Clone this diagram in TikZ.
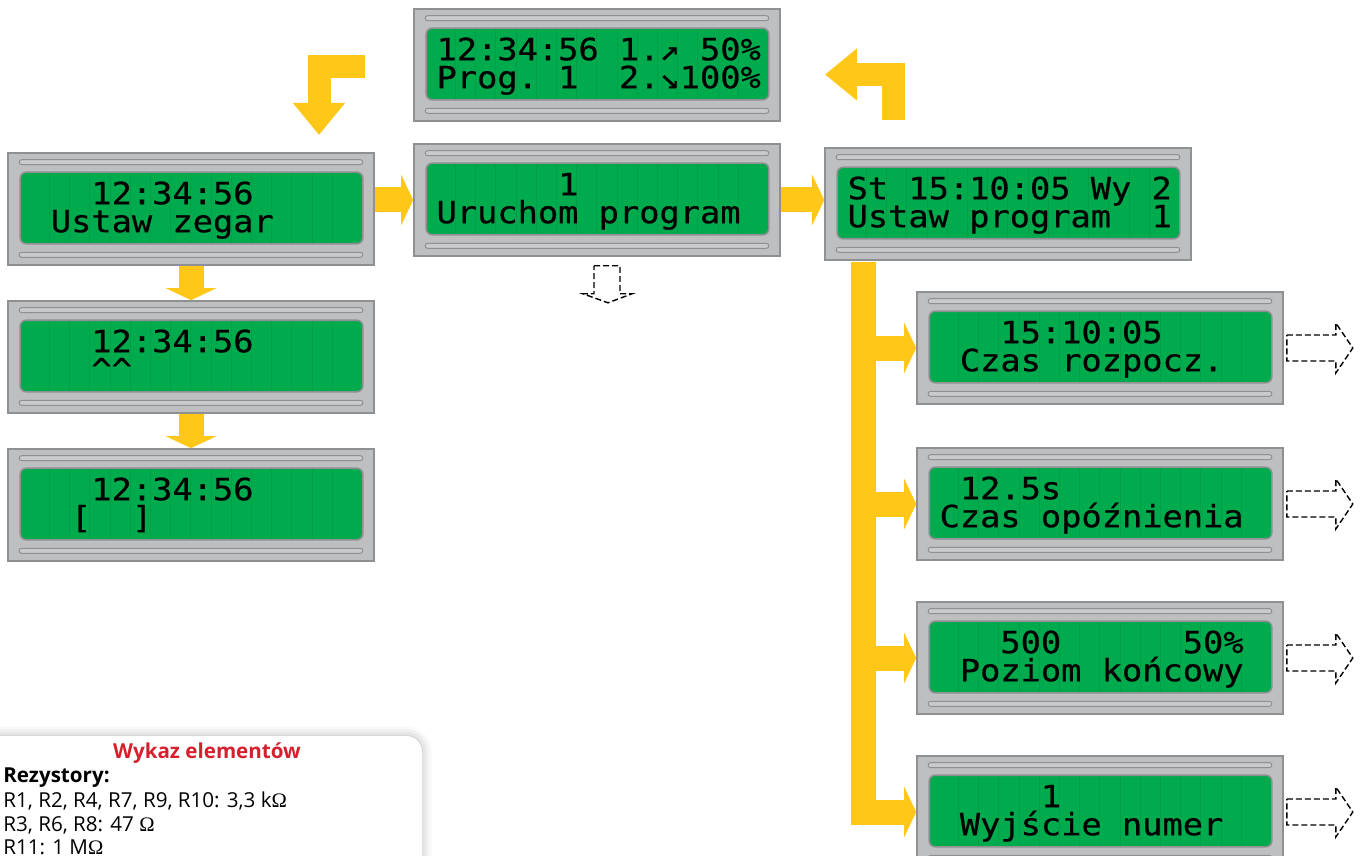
\documentclass[tikz,border=0pt]{standalone}
\usepackage{fontspec}
\usepackage{tikz}
\usetikzlibrary{arrows.meta,positioning,shadows.blur}

\newfontfamily\lcdfont{DejaVu Sans Mono}[FakeStretch=1.1,FakeBold=0.6]
\newfontfamily\legendfont{Open Sans}
\newfontfamily\omfont{Liberation Serif}
\newcommand{\omg}{{\omfont Ω}}

\definecolor{framegray}{RGB}{190,191,193}
\definecolor{framedark}{RGB}{142,144,146}
\definecolor{stripegray}{RGB}{201,202,203}
\definecolor{lcdgreen}{RGB}{0,171,78}
\definecolor{arrowyellow}{RGB}{255,199,23}
\definecolor{titlered}{RGB}{215,32,46}

\begin{document}
\begin{tikzpicture}[x=0.5pt, y=-0.5pt,
    lcd/.style={draw=framedark, fill=framegray, line width=0.8pt, minimum width=183pt, minimum height=56pt, inner sep=0pt},
    screen/.style={fill=lcdgreen, draw=framedark, line width=0.8pt, rounded corners=3pt},
    stripe/.style={fill=stripegray, draw=framedark, line width=0.5pt, rounded corners=1.2pt},
    cell/.style={draw=black, opacity=0.06, line width=0.5pt},
    lcdtext/.style={font={\lcdfont\fontsize{15.3pt}{15.3pt}\selectfont}, inner sep=0pt, anchor=base west},
    yarrow/.style={draw=arrowyellow, line width=12.5pt, -{Triangle[width=25pt,length=6pt]}},
    bent/.style={draw=arrowyellow, line width=11.5pt, -{Triangle[width=25pt,length=16pt]}},
    hollow/.style={draw=black, line width=0.7pt, dash pattern=on 3pt off 1.5pt},
    legtext/.style={font={\legendfont\fontsize{10.3pt}{12pt}\selectfont}, inner sep=0pt, anchor=base west},
    on grid]
  \useasboundingbox (0,0) rectangle (1362,856);
  \clip (0,0) rectangle (1362,856);

  % modules
  \node[lcd] (glowny) at (597,65) {};
  \node[lcd] (zegar) at (191,209) {};
  \node[lcd] (uruchom) at (597,200) {};
  \node[lcd] (ustaw) at (1008,204) {};
  \node[lcd, below=74pt of zegar] (kursor) {};
  \node[lcd, below=74pt of kursor] (nawias) {};
  \node[lcd] (czas) at (1100,348) {};
  \node[lcd, below=78pt of czas] (opozn) {};
  \node[lcd, below=77pt of opozn] (poziom) {};
  \node[lcd, below=77pt of poziom] (wyjscie) {};

  \foreach \m/\ra/\rb in {
      glowny/{12:34:56~1.↗~50\%}/{Prog.~1~~2.↘100\%},
      zegar/{~~~12:34:56}/{~Ustaw~zegar},
      uruchom/{~~~~~~1}/{Uruchom~program},
      ustaw/{St~15:10:05~Wy~2}/{Ustaw~program~~1},
      kursor/{~~~12:34:56}/{~~~\textasciicircum\textasciicircum},
      nawias/{~~~12:34:56}/{~~[~~]},
      czas/{~~~15:10:05}/{~Czas~rozpocz.},
      opozn/{~12.5s}/{Czas~opóźnienia},
      poziom/{~~~500~~~~~~50\%}/{~Poziom~końcowy},
      wyjscie/{~~~~~1}/{~Wyjście~numer}}
  {
    \draw[screen] ([shift={(13,20)}]\m.north west) rectangle ([shift={(-12,-22)}]\m.south east);
    \draw[stripe] ([shift={(12,7.5)}]\m.north west) rectangle ([shift={(-12,12.5)}]\m.north east);
    \draw[stripe] ([shift={(12,-13.5)}]\m.south west) rectangle ([shift={(-12,-8.5)}]\m.south east);
    \foreach \k in {1,...,15}
      \draw[cell] ([shift={(22+\k*20.2,21)}]\m.north west) -- ([shift={(22+\k*20.2,-23)}]\m.south west);
    \node[lcdtext] (\m-1) at ([shift={(23,52)}]\m.north west) {\ra};
    \node[lcdtext] (\m-2) at ([shift={(23,80)}]\m.north west) {\rb};
  }

  % yellow arrows
  \coordinate (lewyp) at (365,66.5);
  \coordinate (lewyk) at (319,135);
  \coordinate (prawyp) at (893,120);
  \coordinate (prawyk) at (825,74.5);
  \coordinate (pion) at (863.5,262);
  \draw[bent] (lewyp) -| (lewyk);
  \draw[bent] (prawyp) |- (prawyk);
  \draw[yarrow] (zegar.east |- uruchom.west) -- (uruchom.west);
  \draw[yarrow] (uruchom.east) -- (uruchom.east -| ustaw.west);
  \draw[yarrow] (zegar.south) -- (kursor.north);
  \draw[yarrow] (kursor.south) -- (nawias.north);
  \draw[yarrow] (pion) |- (wyjscie.west);
  \foreach \r in {czas,opozn,poziom}
    \draw[yarrow] (pion |- \r.west) -- (\r.west);

  % dashed arrows
  \draw[hollow] ([shift={(-3,9)}]uruchom.south) -- ++(26,0) -- ++(0,28) -- ++(12,0)
    -- ++(-24,9) -- ++(-25,-9) -- ++(11,0) -- cycle;
  \foreach \r in {czas,opozn,poziom,wyjscie}
    \draw[hollow] ([shift={(3,-13)}]\r.east) -- ++(49,0) -- ++(0,-12) -- ++(17,25)
      -- ++(-17,25) -- ++(0,-12) -- ++(-49,0) -- cycle;

  % legend
  \fill[white, rounded corners=8pt, blur shadow={shadow xshift=0pt, shadow yshift=0pt, shadow blur radius=5pt, shadow opacity=30}]
    (-30,736) rectangle (422,920);
  \node[legtext, anchor=base, text=titlered, font={\legendfont\bfseries\fontsize{10.3pt}{12pt}\selectfont}] (wykaz) at (207,758) {Wykaz elementów};
  \node[legtext, font={\legendfont\bfseries\fontsize{10.3pt}{12pt}\selectfont}] (rez) at (3,782) {Rezystory:};
  \node[legtext] (rez1) at (3,807) {R1, R2, R4, R7, R9, R10: 3,3 k\omg};
  \node[legtext] (rez2) at (3,831) {R3, R6, R8: 47 \omg};
  \node[legtext] (rez3) at (3,854) {R11: 1 M\omg};
\end{tikzpicture}
\end{document}
